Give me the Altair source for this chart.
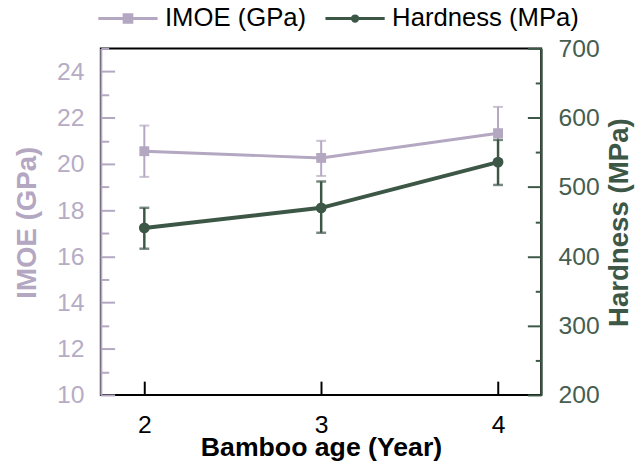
import altair as alt
import pandas as pd

# ---- data ----
ages = [2, 3, 4]
imoe = [20.55, 20.26, 21.33]
imoe_lo = [19.44, 19.48, 20.19]
imoe_hi = [21.66, 21.00, 22.47]
hardness = [441, 470, 536]
hardness_lo = [411, 434, 503]
hardness_hi = [470, 508, 568]
series = ["IMOE (GPa)", "Hardness (MPa)"]

x_ticks = [2, 3, 4]
imoe_major = [10, 12, 14, 16, 18, 20, 22, 24]
imoe_minor = [11, 13, 15, 17, 19, 21, 23, 25]
hard_major = [200, 300, 400, 500, 600, 700]
hard_minor = [250, 350, 450, 550, 650]

PURPLE = "#b3a7c1"
PURPLE_TXT = "#b6acc4"
GREEN = "#3d5747"
GREEN_TXT = "#465d4f"
FONT = "Liberation Sans"

df = pd.DataFrame({
    "age": ages,
    "imoe": imoe, "imoe_lo": imoe_lo, "imoe_hi": imoe_hi,
    "hard": hardness, "hard_lo": hardness_lo, "hard_hi": hardness_hi,
})
leg_df = pd.DataFrame({"series": series})

x_scale = alt.Scale(domain=[1.754, 4.244], nice=False, zero=False)
x_axis = alt.Axis(
    values=x_ticks, orient="bottom", offset=-14, tickSize=14, tickWidth=2,
    tickColor="black", domain=False, grid=False, labelFontSize=25,
    labelFont=FONT, labelColor="black", labelPadding=18, labelFlush=False,
    labelOverlap=False, title="Bamboo age (Year)", titleFontSize=27,
    titleFont=FONT, titleFontWeight="bold", titleColor="black",
    titleBaseline="alphabetic", titleY=75,
)
x_enc = alt.X("age:Q", scale=x_scale, axis=x_axis)

imoe_scale = alt.Scale(domain=[10, 25], nice=False, zero=False)
hard_scale = alt.Scale(domain=[200, 700], nice=False, zero=False)

axis_imoe_main = alt.Axis(
    orient="left", values=imoe_major, ticks=False, tickSize=0, domain=True,
    domainColor=PURPLE, domainWidth=2, grid=False, labelFontSize=25,
    labelFont=FONT, labelColor=PURPLE_TXT, labelPadding=17, labelOverlap=False,
    labelFlush=False, title="IMOE (GPa)", titleFontSize=28, titleFont=FONT,
    titleFontWeight="bold", titleColor=PURPLE, titleAngle=270,
    titleBaseline="alphabetic", titleAlign="center", titleX=-66, titleY=176,
)
axis_imoe_major = alt.Axis(
    orient="left", values=imoe_major, offset=-14, tickSize=14, tickWidth=2,
    tickColor=PURPLE, domain=False, labels=False, grid=False, title=None,
)
axis_imoe_minor = alt.Axis(
    orient="left", values=imoe_minor, offset=-8, tickSize=8, tickWidth=2,
    tickColor=PURPLE, domain=False, labels=False, grid=False, title=None,
)
axis_hard_main = alt.Axis(
    orient="right", values=hard_major, ticks=False, tickSize=0, domain=True,
    domainColor=GREEN, domainWidth=2, grid=False, labelFontSize=25,
    labelFont=FONT, labelColor=GREEN_TXT, labelPadding=17, labelOverlap=False,
    labelFlush=False, title="Hardness (MPa)", titleFontSize=28, titleFont=FONT,
    titleFontWeight="bold", titleColor=GREEN, titleAngle=270,
    titleBaseline="alphabetic", titleAlign="center", titleX=87, titleY=176,
)
axis_hard_major = alt.Axis(
    orient="right", values=hard_major, offset=-14, tickSize=14, tickWidth=2,
    tickColor=GREEN, domain=False, labels=False, grid=False, title=None,
)
axis_hard_minor = alt.Axis(
    orient="right", values=hard_minor, offset=-6, tickSize=6, tickWidth=2,
    tickColor=GREEN, domain=False, labels=False, grid=False, title=None,
)

base = alt.Chart(df)

# IMOE series
imoe_bar = base.mark_rule(color=PURPLE, strokeWidth=2).encode(
    x=x_enc, y=alt.Y("imoe_lo:Q", scale=imoe_scale, axis=axis_imoe_minor),
    y2="imoe_hi:Q")
imoe_caps = base.transform_fold(["imoe_lo", "imoe_hi"], as_=["k", "v"]).mark_tick(
    orient="horizontal", size=10, thickness=2, color=PURPLE).encode(
    x=x_enc, y=alt.Y("v:Q", scale=imoe_scale, axis=None))
imoe_line = base.mark_line(color=PURPLE, strokeWidth=3).encode(
    x=x_enc, y=alt.Y("imoe:Q", scale=imoe_scale, axis=axis_imoe_main))
imoe_pts = base.mark_point(shape="square", filled=True, size=100, color=PURPLE,
                           opacity=1).encode(
    x=x_enc, y=alt.Y("imoe:Q", scale=imoe_scale, axis=axis_imoe_major))

# Hardness series
hard_bar = base.mark_rule(color=GREEN, strokeWidth=2.5).encode(
    x=x_enc, y=alt.Y("hard_lo:Q", scale=hard_scale, axis=axis_hard_minor),
    y2="hard_hi:Q")
hard_caps = base.transform_fold(["hard_lo", "hard_hi"], as_=["k", "v"]).mark_tick(
    orient="horizontal", size=10, thickness=2.5, color=GREEN).encode(
    x=x_enc, y=alt.Y("v:Q", scale=hard_scale, axis=None))
hard_line = base.mark_line(color=GREEN, strokeWidth=4).encode(
    x=x_enc, y=alt.Y("hard:Q", scale=hard_scale, axis=axis_hard_main))
hard_pts = base.mark_point(shape="circle", filled=True, size=120, color=GREEN,
                           opacity=1).encode(
    x=x_enc, y=alt.Y("hard:Q", scale=hard_scale, axis=axis_hard_major))

# Legend (line + marker symbols)
sym_square = "M-1,0L1,0M-0.13,-0.13L0.13,-0.13L0.13,0.13L-0.13,0.13Z"
sym_circle = "M-1,0L1,0M0.09,0A0.09,0.09,0,1,1,-0.09,0A0.09,0.09,0,1,1,0.09,0Z"
color_scale = alt.Scale(domain=series, range=[PURPLE, GREEN])
shape_scale = alt.Scale(domain=series, range=[sym_square, sym_circle])
legend = alt.Legend(
    orient="none", legendX=-4, legendY=-62, direction="horizontal", title=None,
    labelFontSize=26, labelFont=FONT, labelColor="black", labelLimit=400,
    symbolSize=3600, symbolStrokeWidth=3, labelOffset=6, columnPadding=12,
    padding=0,
)
legend_layer = alt.Chart(leg_df).mark_point(clip=True, size=3600, opacity=1,
                                            strokeWidth=3).encode(
    x=alt.value(-500), y=alt.value(-500),
    fill=alt.Fill("series:N", scale=color_scale, legend=legend),
    stroke=alt.Stroke("series:N", scale=color_scale, legend=legend),
    shape=alt.Shape("series:N", scale=shape_scale, legend=legend),
)

chart = alt.layer(
    imoe_bar, imoe_caps, imoe_line, imoe_pts,
    hard_bar, hard_caps, hard_line, hard_pts,
    legend_layer,
).resolve_scale(y="independent").properties(
    width=446, height=351,
    autosize=alt.AutoSizeParams(type="none"),
    padding={"left": 94, "top": 38, "right": 95, "bottom": 68},
).configure(font=FONT).configure_view(stroke="black", strokeWidth=2)

chart.save("out.html", embed_options={"renderer": "svg", "actions": False})
